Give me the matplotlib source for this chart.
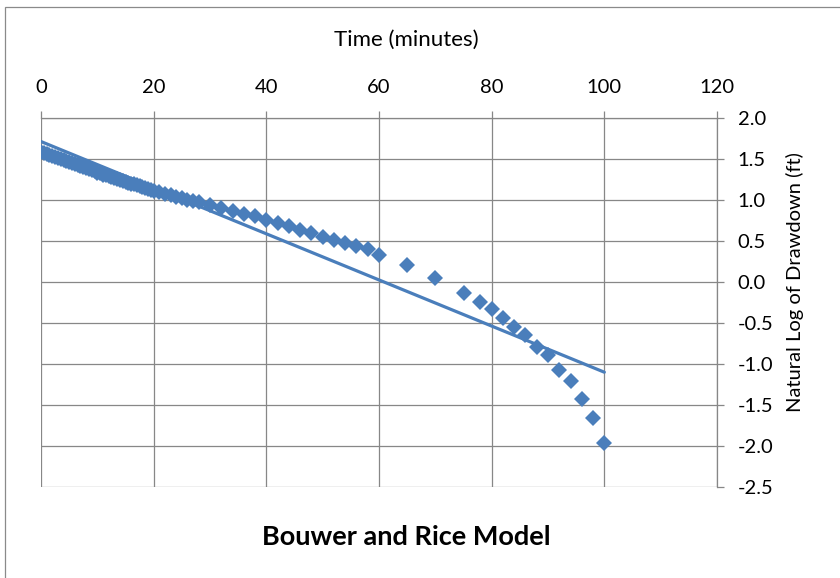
import matplotlib
matplotlib.use("Agg")
import matplotlib.pyplot as plt
from matplotlib.patches import Rectangle

# Measured data: time (minutes) and natural log of drawdown (ft)
time_min = [0, 0.5, 1, 1.5, 2, 2.5, 3, 3.5, 4, 4.5, 5, 5.5, 6, 6.5, 7, 7.5, 8, 8.5, 9, 9.5,
            10, 10.5, 11, 11.5, 12, 12.5, 13, 13.5, 14, 14.5, 15, 15.5, 16, 16.5, 17, 17.5,
            18, 18.5, 19, 19.5, 20, 21, 22, 23, 24, 25, 26, 27, 28,
            30, 32, 34, 36, 38, 40, 42, 44, 46, 48, 50, 52, 54, 56, 58, 60,
            65, 70, 75, 78, 80, 82, 84, 86, 88, 90, 92, 94, 96, 98, 100]
ln_drawdown = [1.59, 1.575, 1.56, 1.55, 1.54, 1.525, 1.51, 1.50, 1.49, 1.475, 1.46, 1.45,
               1.44, 1.425, 1.41, 1.40, 1.385, 1.375, 1.36, 1.35, 1.335, 1.325, 1.31, 1.30,
               1.29, 1.28, 1.265, 1.255, 1.245, 1.235, 1.22, 1.21, 1.20, 1.19, 1.18, 1.17,
               1.155, 1.145, 1.135, 1.125, 1.115, 1.095, 1.075, 1.055, 1.04, 1.02, 1.005,
               0.985, 0.97,
               0.94, 0.90, 0.86, 0.83, 0.80, 0.76, 0.72, 0.68, 0.64, 0.60, 0.55, 0.51, 0.48,
               0.44, 0.40, 0.33,
               0.21, 0.05, -0.13, -0.24, -0.33, -0.44, -0.55, -0.645, -0.79, -0.89, -1.07,
               -1.21, -1.43, -1.66, -1.96]

# Linear trend line
trend_t = [0, 100]
trend_y = [1.713, -1.10]

x_ticks = [0, 20, 40, 60, 80, 100, 120]
y_ticks = [2.0, 1.5, 1.0, 0.5, 0.0, -0.5, -1.0, -1.5, -2.0, -2.5]

chart_title = "Bouwer and Rice Model"
x_title = "Time (minutes)"
y_title = "Natural Log of Drawdown (ft)"

blue = "#4A7EBB"
grid_c = "#878787"
FONT = ["Lato", "DejaVu Sans"]
plt.rcParams["font.family"] = FONT

W, H = 840, 578
fig = plt.figure(figsize=(W / 100, H / 100), dpi=100)
fig.patch.set_facecolor("white")

# outer chart border
fig.patches.append(Rectangle((4.5 / W, -0.1), 1.2, 1 - 6.5 / H + 0.1, transform=fig.transFigure,
                             fill=False, edgecolor="#8a8a8a", linewidth=0.9))

ax = fig.add_axes([41 / W, 1 - 487 / H, (717 - 41) / W, (487 - 118) / H])
ax.set_xlim(0, 120)
ax.set_ylim(-2.5, 2.0)

ax.plot(trend_t, trend_y, color=blue, linewidth=2.3, solid_capstyle="round", zorder=3)
ax.plot(time_min, ln_drawdown, linestyle="none", marker="D", markersize=8.2,
        markerfacecolor=blue, markeredgewidth=0, zorder=4)

ax.set_xticks(x_ticks)
ax.set_yticks(y_ticks)
ax.set_xticklabels([str(v) for v in x_ticks])
ax.set_yticklabels([f"{v:.1f}" for v in y_ticks])

ax.xaxis.tick_top()
ax.yaxis.tick_right()
ax.tick_params(axis="x", direction="out", length=5, width=0.9, color=grid_c,
               labelsize=14.5, pad=11)
ax.tick_params(axis="y", direction="out", length=5, width=0.9, color=grid_c,
               labelsize=14.5, pad=10)

ax.grid(True, color=grid_c, linewidth=0.9)
ax.set_axisbelow(True)
for side in ["left", "bottom"]:
    ax.spines[side].set_visible(False)
for side in ["top", "right"]:
    ax.spines[side].set_color(grid_c)
    ax.spines[side].set_linewidth(0.9)

fig.text(406 / W, 1 - 40 / H, x_title, ha="center", va="center", fontsize=16)
fig.text(795 / W, 1 - 282 / H, y_title, ha="center", va="center", rotation=90, fontsize=14.5)
fig.text(406 / W, 1 - 537 / H, chart_title, ha="center", va="center", fontsize=19.5,
         fontweight="bold")

fig.savefig("out.png", dpi=100, facecolor="white")
